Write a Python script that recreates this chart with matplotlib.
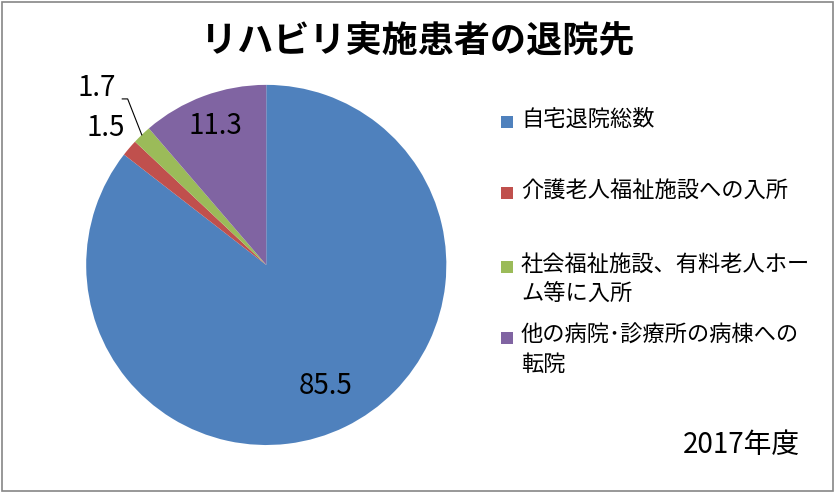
import numpy as np
import matplotlib.pyplot as plt
from matplotlib.patches import Rectangle
plt.rcParams['font.family'] = ['Noto Sans CJK JP', 'DejaVu Sans']

# データ
labels = ['自宅退院総数', '介護老人福祉施設への入所', '社会福祉施設、有料老人ホー\nム等に入所', '他の病院･診療所の病棟への\n転院']
values = [85.5, 1.5, 1.7, 11.3]
colors = ['#4F81BD', '#C0504D', '#9BBB59', '#8064A2']
label_dist = [0.75, 1.17, 1.36, 0.82]

fig = plt.figure(figsize=(8.36, 4.92), dpi=100)
ax = fig.add_axes([0.103, 0.0955, 0.431, 0.732])

wedges, _ = ax.pie(values, colors=colors, startangle=90, counterclock=False,
                   wedgeprops=dict(linewidth=0))
ax.set_xlim(-1, 1)
ax.set_ylim(-1, 1)
ax.set_aspect('equal')

for i, w in enumerate(wedges):
    mid = np.deg2rad((w.theta1 + w.theta2) / 2)
    d = label_dist[i]
    ax.text(d * np.cos(mid), d * np.sin(mid), str(values[i]), ha='center', va='center',
            fontsize=20, clip_on=False)
    if i == 2:
        # 引き出し線
        x0, y0 = 1.0 * np.cos(mid), 1.0 * np.sin(mid)
        x1, y1 = 1.2 * np.cos(mid) + 0.06, 1.2 * np.sin(mid) + 0.055
        ax.plot([x0, x1, x1 - 0.03], [y0, y1, y1], color='black', lw=0.8, clip_on=False)

fig.text(0.5, 0.915, 'リハビリ実施患者の退院先', ha='center', va='center',
         fontsize=26, fontweight='bold')

# 凡例
leg_y = [122, 193, 267, 338]
for i in range(len(labels)):
    yy = 1 - leg_y[i] / 492
    fig.add_artist(Rectangle((501 / 836, yy - 6 / 492), 12 / 836, 12 / 492,
                             facecolor=colors[i], edgecolor='none', transform=fig.transFigure))
    fig.text(521 / 836, yy + 14 / 492, labels[i], ha='left', va='top', fontsize=16,
             linespacing=1.35)

fig.text(800 / 836, 1 - 445 / 492, '2017年度', ha='right', va='center', fontsize=20)

fig.add_artist(Rectangle((0.002, 0.003), 0.994, 0.992, fill=False, edgecolor='#868686',
                         lw=1.2, transform=fig.transFigure))

fig.savefig('out.png', dpi=100)
